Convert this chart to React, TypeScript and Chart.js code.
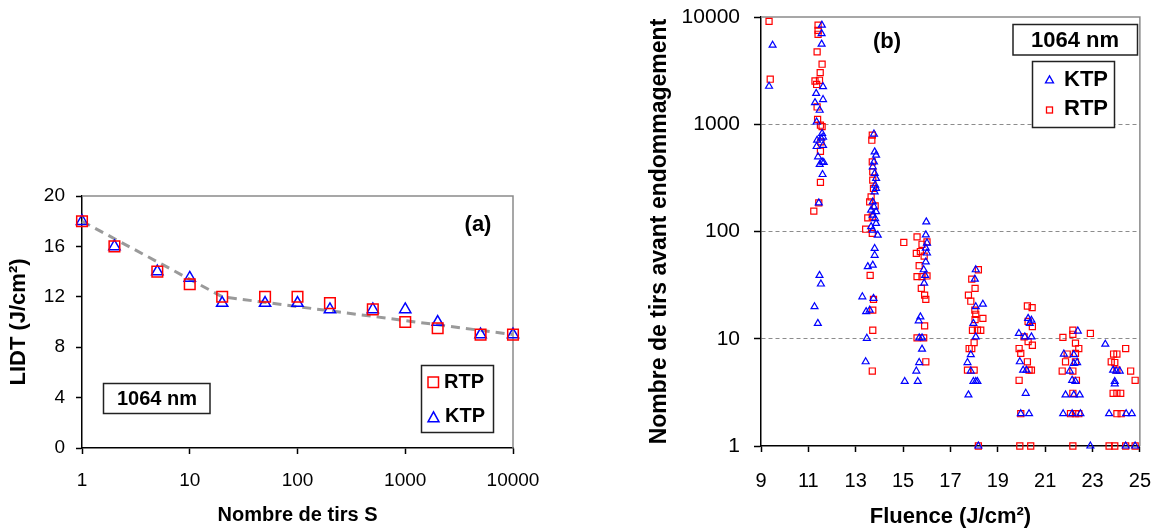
import React, { useEffect, useRef } from 'react';
import Chart from 'chart.js/auto';

const FONT = "'Liberation Sans', Arial, sans-serif";

// ---------- Panel (a) data ----------
const shotCounts = [1, 2, 5, 10, 20, 50, 100, 200, 500, 1000, 2000, 5000, 10000];
const rtpLidt = [18, 16, 14, 13, 12, 12, 12, 11.5, 11, 10, 9.5, 9, 9];
const ktpLidt = [18, 16, 14, 13.5, 11.5, 11.5, 11.5, 11, 11, 11, 10, 9, 9];
const trendShots = [1, 20, 10000];
const trendLidt = [18, 12, 9];
const leftXTicks = [1, 10, 100, 1000, 10000];

// ---------- Panel (b) data: [fluence J/cm², shots before damage] ----------
const ktpDamage: [number, number][] = [
  [9.49, 5460], [9.34, 2260],
  [11.57, 8400], [11.56, 7000], [11.56, 5580], [11.62, 2240], [11.33, 1940], [11.62, 1700],
  [11.28, 1590], [11.48, 1350], [11.35, 1050], [11.58, 820], [11.62, 760], [11.54, 740],
  [11.37, 710], [11.35, 620], [11.62, 635], [11.41, 497], [11.58, 446], [11.48, 422],
  [11.65, 440], [11.60, 340], [11.44, 185], [11.47, 39], [11.53, 32.4], [11.26, 19.9], [11.40, 13.9],
  [13.77, 810], [13.80, 553], [13.86, 515], [13.77, 446], [13.72, 401], [13.80, 348],
  [13.86, 313], [13.82, 271], [13.86, 252], [13.80, 234], [13.72, 189], [13.77, 170],
  [13.65, 158], [13.86, 153], [13.72, 142], [13.82, 132], [13.86, 119], [13.65, 111],
  [13.72, 103], [13.93, 92.5], [13.80, 69.5], [13.80, 60], [13.51, 47], [13.72, 48.6],
  [13.28, 24.6], [13.75, 23.8], [13.44, 17.9], [13.59, 18.5], [13.47, 10.1], [13.42, 6.1],
  [15.98, 123], [15.96, 93], [16.01, 78], [15.96, 70], [16.01, 63], [15.96, 52], [15.87, 44],
  [15.93, 39], [15.89, 33], [15.73, 16], [15.66, 14.7], [15.68, 10.2], [15.80, 10.2],
  [15.80, 8], [15.68, 6], [15.56, 5], [15.07, 4], [15.62, 4],
  [18.07, 44], [18.03, 36], [18.37, 21], [18.07, 19.9], [17.97, 13.9], [18.07, 10.4],
  [17.86, 7.1], [17.72, 6], [17.86, 5.0], [18.07, 4], [18.14, 4], [17.97, 4], [17.76, 3], [18.18, 1],
  [20.28, 15.5], [20.42, 14.9], [20.35, 13.9], [19.89, 11.2], [20.14, 10.4], [20.42, 10.4],
  [19.93, 6.1], [20.07, 5.1], [20.21, 5.1], [20.18, 3.1], [19.97, 2], [20.32, 2],
  [22.38, 11.8], [21.79, 7.2], [22.21, 7.1], [22.04, 5.0], [22.21, 5.9], [22.35, 6],
  [22.14, 4.1], [22.28, 4], [21.86, 3], [22.21, 3], [22.46, 3], [21.76, 2], [22.14, 2],
  [22.49, 2], [22.91, 1],
  [23.54, 8.9], [23.87, 5.1], [24.00, 5.0], [24.15, 5.0], [23.94, 4], [23.94, 3.8],
  [23.70, 2], [24.42, 2], [24.66, 2], [24.40, 1], [24.80, 1],
];

const rtpDamage: [number, number][] = [
  [9.34, 9100], [9.39, 2630],
  [11.41, 8400], [11.41, 7500], [11.41, 6900], [11.37, 4730], [11.58, 3630], [11.50, 3030],
  [11.28, 2530], [11.47, 2570], [11.35, 2350], [11.37, 1450], [11.39, 1110], [11.51, 980],
  [11.58, 950], [11.53, 685], [11.51, 560], [11.51, 287], [11.44, 185], [11.23, 155],
  [13.70, 791], [13.68, 710], [13.70, 446], [13.72, 360], [13.72, 301], [13.75, 252],
  [13.65, 210], [13.59, 189], [13.82, 173], [13.51, 134], [13.70, 137], [13.42, 105],
  [13.70, 96], [13.61, 39], [13.75, 23.3], [13.72, 18.5], [13.72, 12], [13.70, 5.0],
  [15.03, 79], [15.59, 89], [15.80, 76], [16.01, 80], [15.56, 62.5], [15.73, 65], [15.89, 59],
  [15.68, 48], [15.59, 38], [15.80, 38], [16.01, 38.5], [15.77, 29.5], [15.91, 25.5],
  [15.96, 23.3], [15.91, 13.2], [15.59, 10.2], [15.87, 10.2], [15.96, 6.1],
  [18.18, 44], [17.90, 36], [18.04, 29.5], [17.76, 25.5], [17.86, 22.4], [18.03, 18.5],
  [18.07, 16.9], [18.37, 15.5], [18.04, 15.1], [17.93, 12], [18.14, 12], [18.28, 12],
  [18.00, 9.2], [17.79, 8.1], [17.90, 8.1], [17.72, 5.1], [18.00, 5.1], [18.18, 1],
  [20.25, 20.2], [20.45, 19.5], [20.28, 14.5], [20.46, 13], [20.11, 10.4], [20.28, 9.4],
  [20.46, 8.7], [19.90, 8.1], [19.97, 7.3], [20.25, 6.1], [20.42, 5.1], [20.32, 5.1],
  [19.90, 4.1], [19.97, 2], [19.93, 1], [20.39, 1],
  [21.75, 10.3], [22.17, 12], [22.17, 11], [22.91, 11.2], [22.28, 9.1], [22.42, 8.1],
  [21.93, 7.2], [22.28, 7.3], [21.86, 6.1], [22.28, 6.1], [21.72, 5.0], [22.17, 5.0],
  [22.32, 4.1], [22.17, 3.1], [22.07, 2], [22.28, 2], [22.42, 2], [22.17, 1],
  [23.89, 7.2], [24.03, 7.2], [23.79, 6.1], [23.94, 6], [24.40, 8.1], [24.03, 5.1],
  [24.61, 5.0], [24.80, 4.1], [23.87, 3.1], [24.03, 3.1], [24.19, 3.1], [24.03, 2],
  [24.21, 2], [23.70, 1], [23.94, 1], [24.40, 1], [24.80, 1],
];

const rightYTicks = [1, 10, 100, 1000, 10000];
const rightGridValues = [10, 100, 1000];

const RED = '#ff0000';
const BLUE = '#0000ff';

function drawTriangle(ctx: CanvasRenderingContext2D, cx: number, cy: number, w: number, h: number) {
  ctx.beginPath();
  ctx.moveTo(cx, cy - (h * 2) / 3);
  ctx.lineTo(cx - w / 2, cy + h / 3);
  ctx.lineTo(cx + w / 2, cy + h / 3);
  ctx.closePath();
  ctx.stroke();
}

const framePlugin = {
  id: 'greyFrame',
  beforeDatasetsDraw(chart: any) {
    const { ctx, chartArea } = chart;
    ctx.save();
    ctx.strokeStyle = '#8a8a8a';
    ctx.lineWidth = 1.5;
    ctx.beginPath();
    ctx.moveTo(chartArea.left, chartArea.top);
    ctx.lineTo(chartArea.right, chartArea.top);
    ctx.lineTo(chartArea.right, chartArea.bottom);
    ctx.stroke();
    ctx.restore();
  },
};

function labelBox(ctx: CanvasRenderingContext2D, x: number, y: number, w: number, h: number) {
  ctx.fillStyle = '#ffffff';
  ctx.fillRect(x, y, w, h);
  ctx.strokeStyle = '#222222';
  ctx.lineWidth = 1.5;
  ctx.strokeRect(x, y, w, h);
}

const leftAnnotations = {
  id: 'leftAnnotations',
  afterDraw(chart: any) {
    const ctx: CanvasRenderingContext2D = chart.ctx;
    ctx.save();
    ctx.fillStyle = '#000';
    ctx.font = `bold 22px ${FONT}`;
    ctx.textAlign = 'center';
    ctx.textBaseline = 'middle';
    ctx.fillText('(a)', 478, 225);
    labelBox(ctx, 103.5, 383.5, 106.5, 30);
    ctx.fillStyle = '#000';
    ctx.font = `bold 20px ${FONT}`;
    ctx.fillText('1064 nm', 157, 399);
    labelBox(ctx, 421.5, 365.5, 72, 67);
    ctx.lineWidth = 1.5;
    ctx.strokeStyle = RED;
    ctx.strokeRect(428, 377, 10.5, 10.5);
    ctx.strokeStyle = BLUE;
    drawTriangle(ctx, 433.5, 418.5, 11, 10);
    ctx.fillStyle = '#000';
    ctx.font = `bold 20px ${FONT}`;
    ctx.textAlign = 'left';
    ctx.fillText('RTP', 444, 382.5);
    ctx.fillText('KTP', 445, 416.5);
    ctx.restore();
  },
};

const rightAnnotations = {
  id: 'rightAnnotations',
  afterDraw(chart: any) {
    const ctx: CanvasRenderingContext2D = chart.ctx;
    ctx.save();
    ctx.fillStyle = '#000';
    ctx.font = `bold 22px ${FONT}`;
    ctx.textAlign = 'center';
    ctx.textBaseline = 'middle';
    ctx.fillText('(b)', 303, 42);
    labelBox(ctx, 429, 24.5, 124.5, 30.5);
    ctx.fillStyle = '#000';
    ctx.font = `bold 22px ${FONT}`;
    ctx.fillText('1064 nm', 491, 40.5);
    labelBox(ctx, 448.5, 61.5, 82, 66);
    ctx.lineWidth = 1.3;
    ctx.strokeStyle = BLUE;
    drawTriangle(ctx, 465.5, 80.5, 8, 7);
    ctx.strokeStyle = RED;
    ctx.strokeRect(462.5, 107, 6, 6);
    ctx.fillStyle = '#000';
    ctx.textAlign = 'left';
    ctx.font = `bold 22px ${FONT}`;
    ctx.fillText('KTP', 480, 80);
    ctx.fillText('RTP', 480, 109);
    ctx.restore();
  },
};

function LeftChart() {
  const ref = useRef<HTMLCanvasElement>(null);
  useEffect(() => {
    if (!ref.current) return;
    const chart = new Chart(ref.current, {
      type: 'scatter',
      data: {
        datasets: [
          {
            label: 'Tendance',
            data: trendShots.map((x, i) => ({ x, y: trendLidt[i] })),
            showLine: true,
            borderColor: '#9a9a9a',
            borderWidth: 3,
            borderDash: [9, 6],
            pointRadius: 0,
            fill: false,
            order: 2,
            clip: false,
          } as any,
          {
            label: 'RTP',
            data: shotCounts.map((x, i) => ({ x, y: rtpLidt[i] })),
            pointStyle: 'rect',
            pointRadius: 7.5,
            borderColor: RED,
            backgroundColor: 'rgba(0,0,0,0)',
            borderWidth: 1.5,
            clip: false,
          } as any,
          {
            label: 'KTP',
            data: shotCounts.map((x, i) => ({ x, y: ktpLidt[i] })),
            pointStyle: 'triangle',
            pointRadius: 6.5,
            borderColor: BLUE,
            backgroundColor: 'rgba(0,0,0,0)',
            borderWidth: 1.5,
            clip: false,
          } as any,
        ],
      },
      options: {
        responsive: false,
        animation: false,
        layout: { padding: { left: 0, right: 71, top: 196, bottom: 0 } },
        plugins: { legend: { display: false }, tooltip: { enabled: false } },
        scales: {
          x: {
            type: 'logarithmic',
            min: 1,
            max: 10000,
            afterBuildTicks: (s: any) => {
              s.ticks = leftXTicks.map((v) => ({ value: v }));
            },
            afterFit: (s: any) => {
              s.height = 84;
            },
            ticks: {
              callback: (v: any) => String(v),
              font: { family: FONT, size: 19 },
              color: '#000',
              padding: 15,
              maxRotation: 0,
              autoSkip: false,
            },
            grid: { drawOnChartArea: false, tickLength: 6, tickColor: '#000', tickWidth: 1.5 },
            border: { color: '#000', width: 1.5 },
            title: {
              display: true,
              text: 'Nombre de tirs S',
              font: { family: FONT, size: 20, weight: 'bold' },
              color: '#000',
              padding: { top: 0, bottom: 5 },
            },
          },
          y: {
            type: 'linear',
            min: 0,
            max: 20,
            afterFit: (s: any) => {
              s.width = 82;
            },
            ticks: {
              stepSize: 4,
              font: { family: FONT, size: 19 },
              color: '#000',
              padding: 11,
            },
            grid: { drawOnChartArea: false, tickLength: 6, tickColor: '#000', tickWidth: 1.5 },
            border: { color: '#000', width: 1.5 },
            title: {
              display: true,
              text: 'LIDT (J/cm²)',
              font: { family: FONT, size: 22, weight: 'bold' },
              color: '#000',
              padding: { top: 6, bottom: 0 },
            },
          },
        },
      } as any,
      plugins: [framePlugin, leftAnnotations],
    });
    return () => chart.destroy();
  }, []);
  return (
    <canvas ref={ref} width={584} height={532} style={{ position: 'absolute', left: 0, top: 0 }} />
  );
}

function RightChart() {
  const ref = useRef<HTMLCanvasElement>(null);
  useEffect(() => {
    if (!ref.current) return;
    const chart = new Chart(ref.current, {
      type: 'scatter',
      data: {
        datasets: [
          {
            label: 'KTP',
            data: ktpDamage.map(([x, y]) => ({ x, y })),
            pointStyle: 'triangle',
            pointRadius: 4,
            borderColor: BLUE,
            backgroundColor: 'rgba(0,0,0,0)',
            borderWidth: 1.2,
            clip: false,
          } as any,
          {
            label: 'RTP',
            data: rtpDamage.map(([x, y]) => ({ x, y })),
            pointStyle: 'rect',
            pointRadius: 4.3,
            borderColor: RED,
            backgroundColor: 'rgba(0,0,0,0)',
            borderWidth: 1.2,
            clip: false,
          } as any,
        ],
      },
      options: {
        responsive: false,
        animation: false,
        layout: { padding: { left: 0, right: 21, top: 17, bottom: 0 } },
        plugins: { legend: { display: false }, tooltip: { enabled: false } },
        scales: {
          x: {
            type: 'linear',
            min: 9,
            max: 25,
            afterFit: (s: any) => {
              s.height = 86;
            },
            ticks: {
              stepSize: 2,
              font: { family: FONT, size: 20 },
              color: '#000',
              padding: 17,
              maxRotation: 0,
              autoSkip: false,
            },
            grid: { drawOnChartArea: false, tickLength: 6, tickColor: '#000', tickWidth: 1.5 },
            border: { color: '#000', width: 1.5 },
            title: {
              display: true,
              text: 'Fluence (J/cm²)',
              font: { family: FONT, size: 22, weight: 'bold' },
              color: '#000',
              padding: { top: 0, bottom: 2 },
            },
          },
          y: {
            type: 'logarithmic',
            min: 1,
            max: 10000,
            afterBuildTicks: (s: any) => {
              s.ticks = rightYTicks.map((v) => ({ value: v }));
            },
            afterFit: (s: any) => {
              s.width = 177;
              s.paddingTop = 0;
              s.paddingBottom = 0;
            },
            ticks: {
              callback: (v: any) => String(v),
              font: { family: FONT, size: 21 },
              color: '#000',
              padding: 14,
              autoSkip: false,
            },
            grid: {
              drawOnChartArea: true,
              color: (c: any) =>
                c.tick && rightGridValues.includes(c.tick.value) ? '#8c8c8c' : 'rgba(0,0,0,0)',
              lineWidth: 1,
              tickLength: 7,
              tickColor: '#000',
              tickWidth: 1.5,
            },
            border: { color: '#000', width: 1.5, dash: [4, 3] },
            title: {
              display: true,
              text: 'Nombre de tirs avant endommagement',
              font: { family: FONT, size: 23, weight: 'bold' },
              color: '#000',
              padding: { top: 62, bottom: 0 },
            },
          },
        },
      } as any,
      plugins: [framePlugin, rightAnnotations],
    });
    return () => chart.destroy();
  }, []);
  return (
    <canvas ref={ref} width={584} height={532} style={{ position: 'absolute', left: 584, top: 0 }} />
  );
}

export default function App() {
  return (
    <div
      style={{
        position: 'absolute',
        left: 0,
        top: 0,
        width: 1168,
        height: 532,
        background: '#ffffff',
        overflow: 'hidden',
      }}
    >
      <LeftChart />
      <RightChart />
    </div>
  );
}
